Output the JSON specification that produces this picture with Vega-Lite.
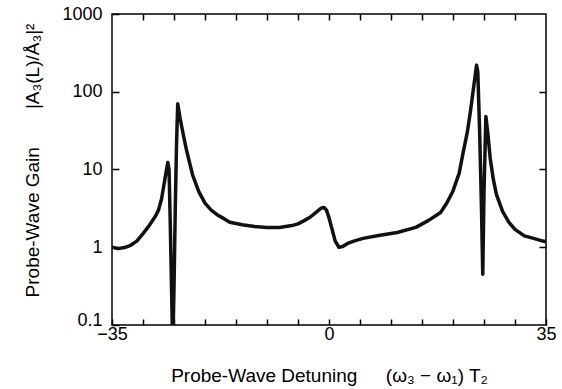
{
  "$schema": "https://vega.github.io/schema/vega-lite/v6.json",
  "width": 434,
  "height": 311,
  "autosize": {"type": "none"},
  "padding": {"left": 112, "top": 14, "right": 16, "bottom": 64},
  "background": "white",
  "config": {
    "view": {"stroke": "black", "strokeWidth": 1.5},
    "axis": {
      "domain": false,
      "tickColor": "black", "tickWidth": 1.5,
      "labelFont": "Liberation Sans", "labelFontSize": 18, "labelColor": "black",
      "titleFont": "Liberation Sans", "titleFontSize": 19, "titleFontWeight": "normal", "titleColor": "black",
      "grid": false
    }
  },
  "data": {"values": [
    {"x": -35, "y": 1.0}, {"x": -34, "y": 0.96}, {"x": -33, "y": 0.99}, {"x": -32, "y": 1.06},
    {"x": -31, "y": 1.2}, {"x": -30, "y": 1.5}, {"x": -29, "y": 1.9}, {"x": -28, "y": 2.5},
    {"x": -27.5, "y": 3.0}, {"x": -27, "y": 4.2}, {"x": -26.6, "y": 6.5}, {"x": -26.3, "y": 9},
    {"x": -26, "y": 12.3}, {"x": -25.8, "y": 10}, {"x": -25.6, "y": 2}, {"x": -25.4, "y": 0.3},
    {"x": -25.2, "y": 0.05}, {"x": -25.0, "y": 0.3}, {"x": -24.8, "y": 3}, {"x": -24.6, "y": 20},
    {"x": -24.4, "y": 70}, {"x": -24.0, "y": 45}, {"x": -23.5, "y": 28}, {"x": -23.0, "y": 18},
    {"x": -22.0, "y": 8.5}, {"x": -21.0, "y": 5.2}, {"x": -20.0, "y": 3.7}, {"x": -19.0, "y": 3.0},
    {"x": -18.0, "y": 2.6}, {"x": -17.0, "y": 2.35}, {"x": -16.0, "y": 2.1}, {"x": -14.0, "y": 1.95},
    {"x": -12.0, "y": 1.85}, {"x": -10.0, "y": 1.8}, {"x": -8.0, "y": 1.8}, {"x": -6.0, "y": 1.9},
    {"x": -5.0, "y": 2.0}, {"x": -4.0, "y": 2.2}, {"x": -3.0, "y": 2.45}, {"x": -2.0, "y": 2.85},
    {"x": -1.2, "y": 3.2}, {"x": -0.8, "y": 3.25}, {"x": -0.4, "y": 3.0}, {"x": 0.0, "y": 2.4},
    {"x": 0.5, "y": 1.7}, {"x": 1.0, "y": 1.2}, {"x": 1.6, "y": 1.0}, {"x": 2.2, "y": 1.02},
    {"x": 3.0, "y": 1.12}, {"x": 4.0, "y": 1.2}, {"x": 5.5, "y": 1.3}, {"x": 8.0, "y": 1.42},
    {"x": 11.0, "y": 1.55}, {"x": 14.0, "y": 1.8}, {"x": 16.0, "y": 2.2}, {"x": 18.0, "y": 2.8},
    {"x": 19.0, "y": 3.7}, {"x": 20.0, "y": 5.3}, {"x": 21.0, "y": 9}, {"x": 21.6, "y": 16},
    {"x": 22.3, "y": 30}, {"x": 22.8, "y": 55}, {"x": 23.3, "y": 110}, {"x": 23.8, "y": 220},
    {"x": 24.0, "y": 180}, {"x": 24.3, "y": 30}, {"x": 24.6, "y": 3}, {"x": 24.8, "y": 0.45},
    {"x": 25.0, "y": 5}, {"x": 25.3, "y": 48}, {"x": 25.6, "y": 30}, {"x": 26.0, "y": 14},
    {"x": 26.5, "y": 7.5}, {"x": 27.0, "y": 4.8}, {"x": 28.0, "y": 2.9}, {"x": 29.0, "y": 2.1},
    {"x": 30.0, "y": 1.7}, {"x": 31.5, "y": 1.4}, {"x": 33.0, "y": 1.3}, {"x": 34.5, "y": 1.2},
    {"x": 35, "y": 1.18}
  ]},
  "resolve": {"axis": {"x": "independent", "y": "independent"}},
  "layer": [
    {
      "mark": {"type": "line", "color": "#111", "strokeWidth": 3.5, "clip": true, "strokeJoin": "round"},
      "encoding": {
        "x": {"field": "x", "type": "quantitative",
          "scale": {"domain": [-35, 35], "nice": false, "zero": false},
          "axis": {"values": [-35,-30,-25,-20,-15,-10,-5,0,5,10,15,20,25,30,35],
            "labelExpr": "datum.value == -35 ? '\u221235' : datum.value == 0 ? '0' : datum.value == 35 ? '35' : ''",
            "offset": -6, "tickSize": 6, "labelPadding": 0, "labelFlush": false,
            "title": "Probe-Wave Detuning\u2003\u2002(\u03c9\u2083 \u2212 \u03c9\u2081) T\u2082",
            "titlePadding": 23}},
        "y": {"field": "y", "type": "quantitative",
          "scale": {"type": "log", "domain": [0.1, 1000], "nice": false},
          "axis": {"values": [0.1, 1, 10, 100, 1000], "format": "~g",
            "offset": -7, "tickSize": 7, "labelPadding": 10, "labelFlush": false,
            "labelBaseline": {"condition": {"test": "datum.value < 0.5", "value": "alphabetic"}, "value": "middle"},
            "title": "Probe-Wave Gain\u2003\u2003|A\u2083(L)/\u00c5\u2083|\u00b2",
            "titleX": -77, "titleY": 146}}
      }
    },
    {
      "mark": {"type": "line", "opacity": 0},
      "encoding": {
        "x": {"field": "x", "type": "quantitative",
          "scale": {"domain": [-35, 35], "nice": false, "zero": false},
          "axis": {"orient": "top", "values": [-30,-25,-20,-15,-10,-5,0,5,10,15,20,25,30],
            "labels": false, "offset": -6, "tickSize": 6, "title": null}},
        "y": {"field": "y", "type": "quantitative",
          "scale": {"type": "log", "domain": [0.1, 1000], "nice": false},
          "axis": {"orient": "right", "values": [1, 10, 100], "labels": false, "offset": -7, "tickSize": 7, "title": null}}
      }
    }
  ]
}
